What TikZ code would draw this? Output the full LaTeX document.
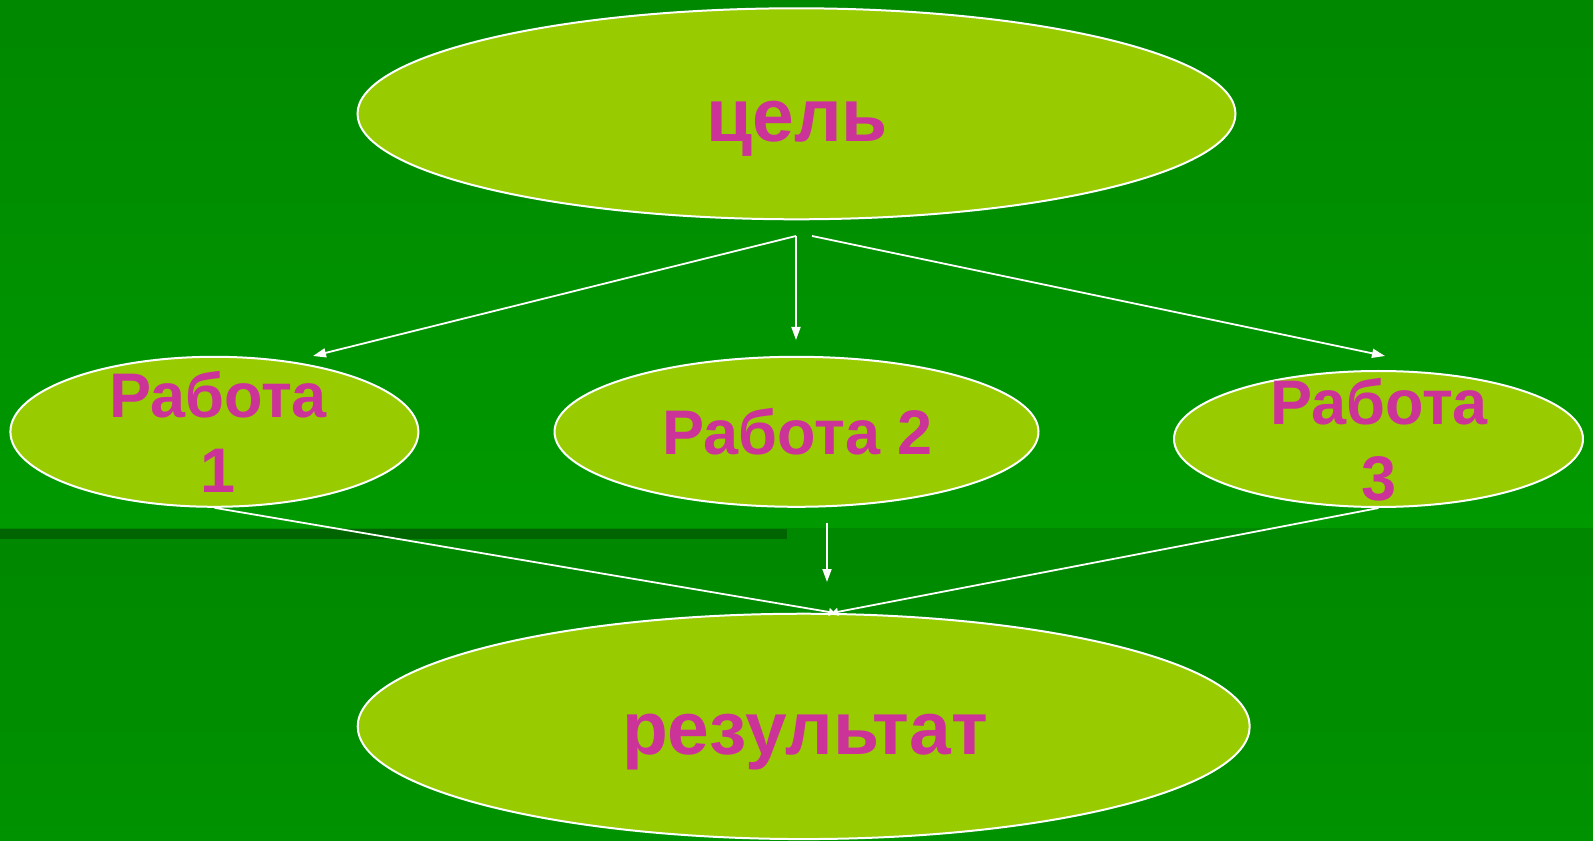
\documentclass[tikz,border=0pt]{standalone}
\usepackage{fontspec}
\setmainfont{Liberation Sans}
\usepackage{tikz}
\usetikzlibrary{shapes.geometric}
\usetikzlibrary{arrows.meta}

\definecolor{bgtop}{RGB}{0,136,0}
\definecolor{bgband}{RGB}{0,153,0}
\definecolor{bgbottom}{RGB}{0,146,0}
\definecolor{bgstrip}{RGB}{0,100,0}
\definecolor{ovalfill}{RGB}{153,204,0}
\definecolor{labelpink}{RGB}{204,51,153}

\begin{document}
\begin{tikzpicture}[x=0.75pt,y=0.75pt,yscale=-1,xscale=1,
  oval/.style={ellipse,draw=white,line width=1.5pt,fill=ovalfill,inner sep=0pt},
  bigtext/.style={text=labelpink,font=\fontsize{56.25}{67.5}\selectfont\bfseries,anchor=base,inner sep=0pt},
  worktext/.style={text=labelpink,font=\fontsize{47.25}{56.7}\selectfont\bfseries,align=center,inner sep=0pt},
  arr/.style={draw=white,line width=1.35pt,-{Triangle[length=9.75pt,width=6.75pt]}},
  joinarr/.style={draw=white,line width=1.35pt,-{Triangle[length=4.5pt,width=6pt]}}]
\useasboundingbox (0,0) rectangle (1593,841);

%Background
\shade [top color=bgtop,bottom color=bgband] (0,0) rectangle (1593,529);
\shade [top color=bgtop,bottom color=bgbottom] (0,529) rectangle (1593,841);
\fill [bgstrip] (0,529) rectangle (787,539);

%Ovals
\node [oval,minimum width=658.5pt,minimum height=158.25pt] (goal) at (796.5,113.8) {};
\node [oval,minimum width=306pt,minimum height=112.5pt] (work1) at (214.4,431.8) {};
\node [oval,minimum width=363pt,minimum height=112.5pt] (work2) at (796.5,431.8) {};
\node [oval,minimum width=306.75pt,minimum height=102pt] (work3) at (1378.5,439) {};
\node [oval,minimum width=669pt,minimum height=169pt] (result) at (803.7,726.4) {};

%Connector ends
\coordinate (goalL) at (796,236);
\coordinate (goalR) at (812,236);
\coordinate (in1) at (313,356);
\coordinate (in2) at (796,340);
\coordinate (in3) at (1385,356);
\coordinate (out2) at (827,523);
\coordinate (resin) at (827,582);
\coordinate (joinL) at (835,613);
\coordinate (joinR) at (832,613);

%Arrows
\draw [arr] (goalL) -- (in1);
\draw [arr] (goalL) -- (in2);
\draw [arr] (goalR) -- (in3);
\draw [arr] (out2) -- (resin);
\draw [joinarr] (work1.south) -- (joinL);
\draw [joinarr] (work3.south) -- (joinR);

% Text Node
\node [bigtext] (goaltext) at (797,142) {цель};
% Text Node
\node [worktext] (work1text) at (218,432) {Работа\\1};
% Text Node
\node [worktext,anchor=base] (work2text) at (797.5,455) {Работа 2};
% Text Node
\node [worktext] (work3text) at (1379,440) {Работа\\3};
% Text Node
\node [bigtext] (resulttext) at (805,754) {результат};

\end{tikzpicture}
\end{document}
